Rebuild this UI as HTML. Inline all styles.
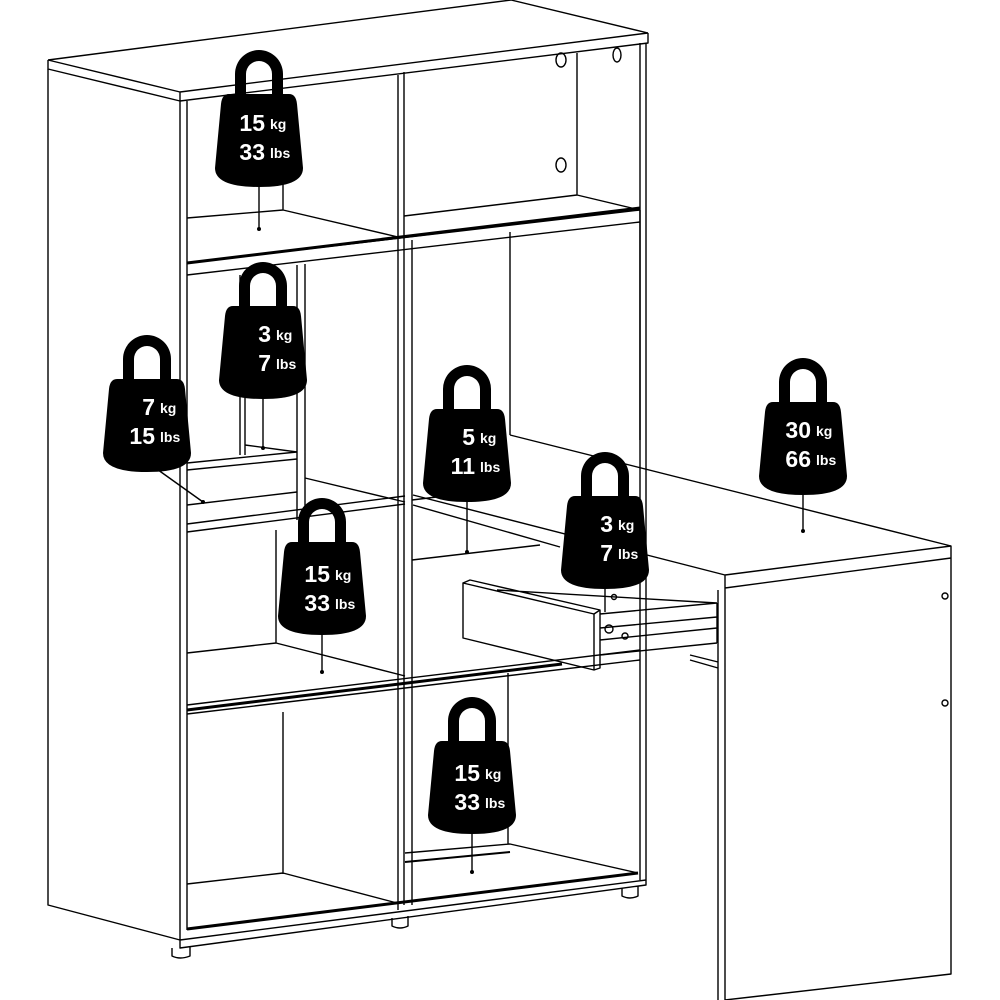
<!DOCTYPE html>
<html><head><meta charset="utf-8"><style>
html,body{margin:0;padding:0;background:#fff;}
svg{display:block;}
.w text{font-family:"Liberation Sans",sans-serif;fill:#fff;font-weight:bold;}
</style></head><body>
<svg width="1000" height="1000" viewBox="0 0 1000 1000" xmlns="http://www.w3.org/2000/svg">
<defs>
<g id="wt">
<path d="M-24,50 L-24,24 A24,24 0 0 1 24,24 L24,50 L13,50 L13,24 A13,13 0 0 0 -13,24 L-13,50 Z" fill="#000"/>
<path d="M-30,44 Q-37,44 -38,54 L-44,118 Q-44,137 0,137 Q44,137 44,118 L38,54 Q37,44 30,44 Z" fill="#000"/>
</g>
</defs>
<g fill="none" stroke="#000" stroke-width="1.4" stroke-linejoin="round">
<!-- top slab -->
<path d="M48,60 L511,0 M48,60 L180,92 L648,33 M511,0 L648,33 M48,60 L48,69 L180,101 L648,43 L648,33 M180,92 L180,101"/>
<!-- sides -->
<path d="M48,69 L48,905 L180,940 L180,101 M187,101 L187,930 M640,43 L640,880 M646,43 L646,885 L180,948 L180,940 M180,940 L646,880"/>
<!-- middle divider -->
<path d="M398,75 L398,910 M404,72 L404,905"/>
<!-- upper shelf -->
<path d="M187,263 L640,210 M187,275 L640,222" />
<path d="M187,263 L640,208" stroke-width="3"/>
<path d="M187,218 L283,210 L398,237 M283,180 L283,210 M404,216 L577,195 L640,210 M577,53 L577,195"/>
<ellipse cx="561" cy="60" rx="5" ry="7"/><ellipse cx="617" cy="55" rx="4" ry="7"/><ellipse cx="561" cy="165" rx="5" ry="7"/>
<!-- row2 left -->
<path d="M240,275 L240,455 M245,273 L245,455 M297,265 L297,520 M305,264 L305,518 M187,463 L297,452 M187,470 L297,459 M297,452 L297,459 M245,445 L297,452"/>
<path d="M187,524 L405,496 M187,532 L405,504 M187,505 L297,492 M276,530 L276,643 M187,653 L276,643 L405,676 M305,478 L405,502"/>
<!-- right column upper verticals -->
<path d="M412,240 L412,905 M510,232 L510,435 M640,210 L640,440"/>
<path d="M412,500 L510,488 M412,560 L540,545"/>
<!-- middle shelf -->
<path d="M187,705 L640,650 M187,714 L640,660"/>
<path d="M187,710 L562,664" stroke-width="3"/>
<!-- lower -->
<path d="M283,712 L283,874 M187,884 L283,873 L397,903 M508,673 L508,844 M405,853 L510,844 L638,873"/>
<path d="M187,929 L638,873" stroke-width="3"/>
<path d="M405,862 L510,852" stroke-width="2"/>
<!-- feet -->
<path d="M172,948 L172,956 Q180,960 190,956 L190,946 M392,918 L392,926 Q400,930 408,926 L408,916 M622,888 L622,896 Q630,900 638,896 L638,886"/>
<!-- desk -->
<path d="M510,435 L951,546 L725,575 L413,495 M413,505 L560,547 M725,575 L725,588 L951,558 L951,546 M718,590 L718,1000 M725,588 L725,1000 M951,558 L951,974 L725,1000 M690,660 L718,668 M690,655 L718,662"/>
<circle cx="945" cy="596" r="3"/><circle cx="945" cy="703" r="3"/>
<!-- drawer -->
<path d="M463,583 L594,614 L594,670 L463,638 Z M463,583 L470,580 L600,610 L594,614 M600,610 L600,668 L594,670 M497,590 L717,603 M600,614 L717,603 M600,628 L717,617 M600,640 L717,628 M600,655 L717,643 M717,603 L717,643"/>
<circle cx="614" cy="597" r="2.5"/><circle cx="609" cy="629" r="4"/><circle cx="625" cy="636" r="3"/>
<!-- pointer lines -->
<path d="M259,187 L259,228 M263,390 L263,448 M147,462 L203,502 M467,493 L467,552 M605,580 L605,612 M803,487 L803,531 M322,630 L322,672 M472,830 L472,872"/>
</g>
<g fill="#000">
<circle cx="259" cy="229" r="2"/><circle cx="263" cy="448" r="2"/><circle cx="203" cy="502" r="2"/><circle cx="467" cy="552" r="2"/><circle cx="803" cy="531" r="2"/><circle cx="322" cy="672" r="2"/><circle cx="472" cy="872" r="2"/>
</g>
<!-- weights -->
<g class="w">
<use href="#wt" transform="translate(259,50)"/>
<text x="265" y="131" font-size="23" text-anchor="end">15</text><text x="270" y="129" font-size="14">kg</text>
<text x="265" y="160" font-size="23" text-anchor="end">33</text><text x="270" y="158" font-size="14">lbs</text>

<use href="#wt" transform="translate(263,262)"/>
<text x="271" y="342" font-size="23" text-anchor="end">3</text><text x="276" y="340" font-size="14">kg</text>
<text x="271" y="371" font-size="23" text-anchor="end">7</text><text x="276" y="369" font-size="14">lbs</text>

<use href="#wt" transform="translate(147,335)"/>
<text x="155" y="415" font-size="23" text-anchor="end">7</text><text x="160" y="413" font-size="14">kg</text>
<text x="155" y="444" font-size="23" text-anchor="end">15</text><text x="160" y="442" font-size="14">lbs</text>

<use href="#wt" transform="translate(467,365)"/>
<text x="475" y="445" font-size="23" text-anchor="end">5</text><text x="480" y="443" font-size="14">kg</text>
<text x="475" y="474" font-size="23" text-anchor="end">11</text><text x="480" y="472" font-size="14">lbs</text>

<use href="#wt" transform="translate(605,452)"/>
<text x="613" y="532" font-size="23" text-anchor="end">3</text><text x="618" y="530" font-size="14">kg</text>
<text x="613" y="561" font-size="23" text-anchor="end">7</text><text x="618" y="559" font-size="14">lbs</text>

<use href="#wt" transform="translate(803,358)"/>
<text x="811" y="438" font-size="23" text-anchor="end">30</text><text x="816" y="436" font-size="14">kg</text>
<text x="811" y="467" font-size="23" text-anchor="end">66</text><text x="816" y="465" font-size="14">lbs</text>

<use href="#wt" transform="translate(322,498)"/>
<text x="330" y="582" font-size="23" text-anchor="end">15</text><text x="335" y="580" font-size="14">kg</text>
<text x="330" y="611" font-size="23" text-anchor="end">33</text><text x="335" y="609" font-size="14">lbs</text>

<use href="#wt" transform="translate(472,697)"/>
<text x="480" y="781" font-size="23" text-anchor="end">15</text><text x="485" y="779" font-size="14">kg</text>
<text x="480" y="810" font-size="23" text-anchor="end">33</text><text x="485" y="808" font-size="14">lbs</text>
</g>
</svg>
</body></html>
